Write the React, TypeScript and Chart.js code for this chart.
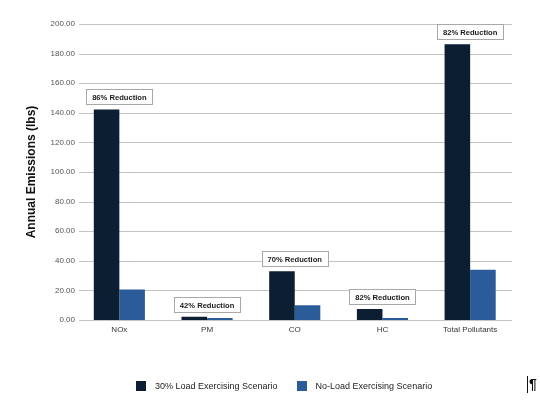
import React, { useEffect, useRef } from "react"
import { Chart, registerables } from "chart.js"

Chart.register(...registerables)

const categories = ["NOx", "PM", "CO", "HC", "Total Pollutants"]
const loadSeriesName = "30% Load Exercising Scenario"
const noLoadSeriesName = "No-Load Exercising Scenario"
const loadValues = [142.3, 2.2, 32.9, 7.4, 186.4]
const noLoadValues = [20.6, 1.3, 9.9, 1.3, 34.0]
const reductionLabels = ["86% Reduction", "42% Reduction", "70% Reduction", "82% Reduction", "82% Reduction"]

const DARK = "#0c1e32"
const BLUE = "#2b5c99"
const FONT = "'Liberation Sans', Arial, Helvetica, sans-serif"

// gridlines drawn slightly inset from the plot edges, like the original
const insetGrid = {
  id: "insetGrid",
  beforeDatasetsDraw(chart: any) {
    const { ctx, chartArea, scales } = chart
    const y = scales.y
    ctx.save()
    ctx.strokeStyle = "#c4c4c4"
    ctx.lineWidth = 1
    y.ticks.forEach((t: any) => {
      const py = Math.round(y.getPixelForValue(t.value)) + 0.5
      ctx.beginPath()
      ctx.moveTo(chartArea.left + 3.5, py)
      ctx.lineTo(chartArea.right - 2, py)
      ctx.stroke()
    })
    ctx.restore()
  },
}

// boxed "xx% Reduction" callouts above each pair of bars
const reductionBoxes = {
  id: "reductionBoxes",
  afterDatasetsDraw(chart: any) {
    const { ctx } = chart
    const m0 = chart.getDatasetMeta(0)
    const m1 = chart.getDatasetMeta(1)
    const w = 66
    const h = 15
    ctx.save()
    reductionLabels.forEach((label, i) => {
      const cx = chart.scales.x.getPixelForValue(i)
      const top = Math.min(m0.data[i].y, m1.data[i].y)
      const bx = Math.round(cx - w / 2) + 0.5
      const by = Math.round(top - 5 - h) + 0.5
      ctx.fillStyle = "#ffffff"
      ctx.fillRect(bx, by, w, h)
      ctx.strokeStyle = "#a8a8a8"
      ctx.lineWidth = 1
      ctx.strokeRect(bx, by, w, h)
      ctx.fillStyle = "#1a1a1a"
      ctx.font = `bold 7.6px ${FONT}`
      ctx.textAlign = "center"
      ctx.textBaseline = "middle"
      ctx.fillText(label, cx, by + h / 2 + 0.5)
    })
    ctx.restore()
  },
}

const EmissionsChart: React.FC = () => {
  const chartRef = useRef<HTMLCanvasElement>(null)
  const chartInstance = useRef<Chart | null>(null)

  useEffect(() => {
    if (!chartRef.current) return
    if (chartInstance.current) chartInstance.current.destroy()
    const ctx = chartRef.current.getContext("2d")
    if (!ctx) return

    chartInstance.current = new Chart(ctx, {
      type: "bar",
      data: {
        labels: categories,
        datasets: [
          {
            label: loadSeriesName,
            data: loadValues,
            backgroundColor: DARK,
            borderWidth: 0,
            categoryPercentage: 0.583,
            barPercentage: 1,
          },
          {
            label: noLoadSeriesName,
            data: noLoadValues,
            backgroundColor: BLUE,
            borderWidth: 0,
            categoryPercentage: 0.583,
            barPercentage: 1,
          },
        ],
      },
      options: {
        responsive: false,
        animation: false,
        devicePixelRatio: 1,
        layout: { padding: { left: 20, right: 26, top: 24, bottom: 0 } },
        scales: {
          x: {
            grid: { display: false, drawTicks: false },
            border: { display: false },
            ticks: { padding: 5, color: "#333", font: { family: FONT, size: 8 } },
            afterFit: (s: any) => {
              s.height = 82
            },
          },
          y: {
            min: 0,
            max: 200,
            grid: { display: false, drawTicks: false },
            border: { display: false },
            ticks: {
              stepSize: 20,
              padding: 0.5,
              color: "#555",
              font: { family: FONT, size: 8 },
              callback: (v: any) => Number(v).toFixed(2),
            },
            title: {
              display: true,
              text: "Annual Emissions (lbs)",
              color: "#111",
              font: { family: FONT, size: 12, weight: "bold" },
              padding: { top: 4, bottom: 4 },
            },
            afterFit: (s: any) => {
              s.width = 55.5
            },
          },
        },
        plugins: {
          legend: { display: false },
          tooltip: { enabled: false },
        },
      },
      plugins: [insetGrid, reductionBoxes],
    })

    return () => {
      if (chartInstance.current) {
        chartInstance.current.destroy()
        chartInstance.current = null
      }
    }
  }, [])

  const legendItems = [
    { name: loadSeriesName, color: DARK },
    { name: noLoadSeriesName, color: BLUE },
  ]

  return (
    <div style={{ position: "absolute", left: 0, top: 0, width: 540, height: 402, background: "#fff", fontFamily: FONT }}>
      <canvas ref={chartRef} width={540} height={402} style={{ display: "block" }}></canvas>
      <div style={{ position: "absolute", left: 136, top: 380, display: "flex", alignItems: "center", height: 12 }}>
        {legendItems.map((item, i) => (
          <div key={item.name} style={{ display: "flex", alignItems: "center", marginLeft: i === 0 ? 0 : 19 }}>
            <span style={{ display: "inline-block", width: 10, height: 10, background: item.color, marginRight: 9 }}></span>
            <span style={{ fontSize: 9, color: "#222", whiteSpace: "nowrap" }}>{item.name}</span>
          </div>
        ))}
      </div>
      <div
        style={{
          position: "absolute",
          left: 527,
          top: 376,
          height: 17,
          borderLeft: "1px solid #111",
          paddingLeft: 1,
          fontSize: 14,
          lineHeight: "17px",
          fontWeight: "bold",
          color: "#111",
        }}
      >
        ¶
      </div>
    </div>
  )
}

export default function App() {
  return <EmissionsChart />
}
